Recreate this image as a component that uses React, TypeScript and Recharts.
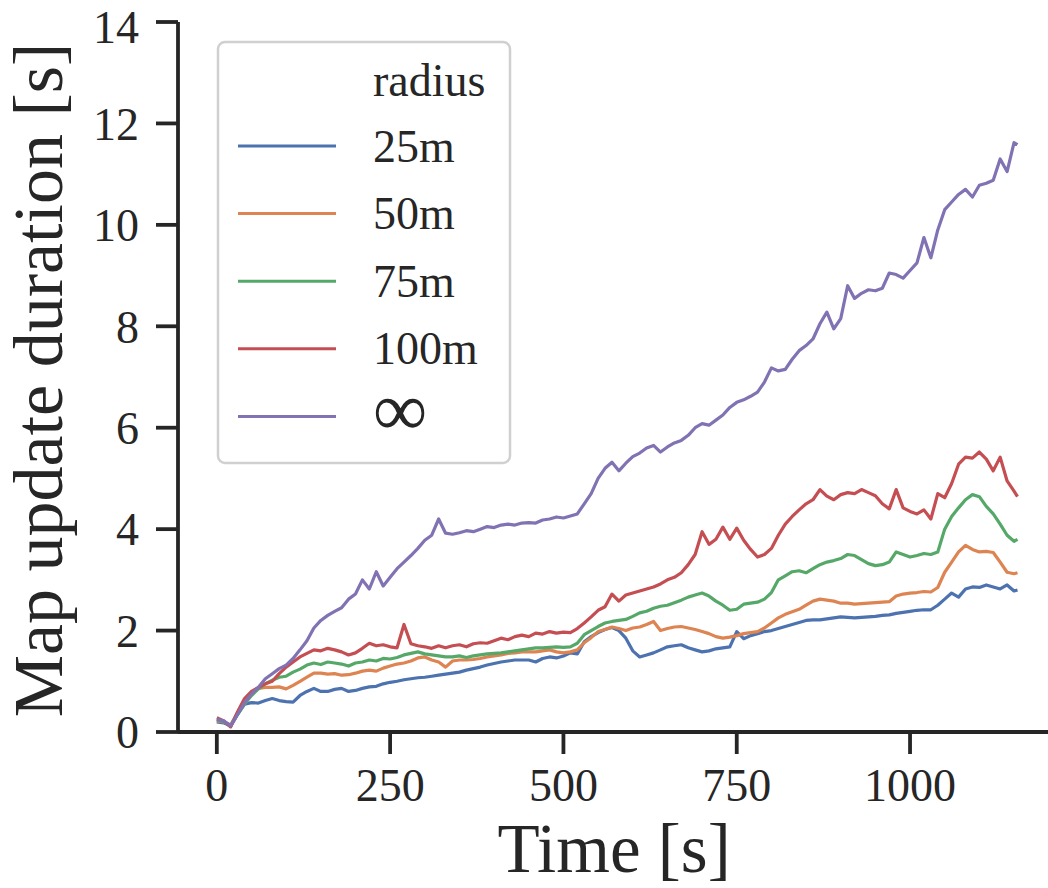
import React from 'react';
import { LineChart, Line, XAxis, YAxis, Legend, Label } from 'recharts';

const time = [
  0, 10, 20, 30, 40, 50, 60, 70, 80, 90,
  100, 110, 120, 130, 140, 150, 160, 170, 180, 190,
  200, 210, 220, 230, 240, 250, 260, 270, 280, 290,
  300, 310, 320, 330, 340, 350, 360, 370, 380, 390,
  400, 410, 420, 430, 440, 450, 460, 470, 480, 490,
  500, 510, 520, 530, 540, 550, 560, 570, 580, 590,
  600, 610, 620, 630, 640, 650, 660, 670, 680, 690,
  700, 710, 720, 730, 740, 750, 760, 770, 780, 790,
  800, 810, 820, 830, 840, 850, 860, 870, 880, 890,
  900, 910, 920, 930, 940, 950, 960, 970, 980, 990,
  1000, 1010, 1020, 1030, 1040, 1050, 1060, 1070, 1080, 1090,
  1100, 1110, 1120, 1130, 1140, 1150, 1155,
];

const r25 = [
  0.20, 0.18, 0.12, 0.35, 0.55, 0.58, 0.57, 0.62, 0.66, 0.62,
  0.60, 0.59, 0.72, 0.80, 0.86, 0.80, 0.80, 0.84, 0.86, 0.80,
  0.82, 0.86, 0.89, 0.90, 0.95, 0.98, 1.00, 1.03, 1.05, 1.07,
  1.08, 1.10, 1.12, 1.14, 1.16, 1.18, 1.22, 1.25, 1.28, 1.32,
  1.35, 1.38, 1.40, 1.42, 1.42, 1.42, 1.38, 1.45, 1.48, 1.46,
  1.50, 1.56, 1.54, 1.78, 1.88, 1.96, 2.02, 2.06, 2.00, 1.85,
  1.60, 1.48, 1.52, 1.56, 1.62, 1.68, 1.70, 1.72, 1.66, 1.62,
  1.58, 1.60, 1.64, 1.66, 1.68, 1.98, 1.84, 1.90, 1.94, 1.98,
  2.00, 2.04, 2.08, 2.12, 2.16, 2.20, 2.21, 2.21, 2.23, 2.25,
  2.27, 2.26, 2.25, 2.26, 2.27, 2.28, 2.30, 2.31, 2.34, 2.36,
  2.38, 2.40, 2.41, 2.41, 2.50, 2.62, 2.74, 2.66, 2.82, 2.86,
  2.85, 2.90, 2.86, 2.82, 2.90, 2.78, 2.80,
];

const r50 = [
  0.22, 0.20, 0.14, 0.38, 0.62, 0.78, 0.86, 0.88, 0.88, 0.89,
  0.85, 0.92, 1.00, 1.08, 1.16, 1.16, 1.14, 1.15, 1.12, 1.13,
  1.16, 1.20, 1.22, 1.20, 1.26, 1.30, 1.34, 1.36, 1.40, 1.46,
  1.48, 1.42, 1.38, 1.28, 1.40, 1.42, 1.42, 1.43, 1.45, 1.48,
  1.50, 1.52, 1.55, 1.56, 1.58, 1.58, 1.58, 1.60, 1.62, 1.58,
  1.56, 1.58, 1.62, 1.76, 1.86, 1.98, 2.02, 2.07, 2.04, 2.00,
  2.05, 2.07, 2.12, 2.18, 2.00, 2.04, 2.07, 2.08, 2.05, 2.02,
  1.98, 1.94, 1.88, 1.85, 1.87, 1.90, 1.94, 1.96, 1.98, 2.05,
  2.15, 2.25, 2.32, 2.37, 2.42, 2.50, 2.58, 2.62, 2.60, 2.58,
  2.54, 2.54, 2.52, 2.53, 2.54, 2.55, 2.56, 2.57, 2.68, 2.72,
  2.74, 2.75, 2.77, 2.76, 2.85, 3.15, 3.35, 3.55, 3.68, 3.60,
  3.55, 3.56, 3.54, 3.35, 3.15, 3.12, 3.14,
];

const r75 = [
  0.24, 0.20, 0.12, 0.35, 0.55, 0.72, 0.85, 0.95, 1.02, 1.08,
  1.10, 1.18, 1.24, 1.32, 1.36, 1.33, 1.38, 1.36, 1.34, 1.30,
  1.36, 1.38, 1.42, 1.40, 1.45, 1.44, 1.47, 1.52, 1.55, 1.58,
  1.54, 1.52, 1.50, 1.48, 1.48, 1.50, 1.47, 1.50, 1.52, 1.54,
  1.55, 1.56, 1.58, 1.60, 1.62, 1.64, 1.66, 1.66, 1.67, 1.68,
  1.67, 1.68, 1.75, 1.92, 2.00, 2.08, 2.15, 2.18, 2.20, 2.22,
  2.28, 2.35, 2.38, 2.44, 2.48, 2.50, 2.55, 2.60, 2.66, 2.70,
  2.74, 2.68, 2.58, 2.50, 2.40, 2.42, 2.52, 2.54, 2.56, 2.62,
  2.75, 3.00, 3.08, 3.16, 3.18, 3.14, 3.22, 3.30, 3.35, 3.38,
  3.42, 3.50, 3.48, 3.40, 3.32, 3.28, 3.30, 3.35, 3.55, 3.50,
  3.45, 3.48, 3.52, 3.50, 3.55, 4.00, 4.25, 4.42, 4.58, 4.68,
  4.64, 4.45, 4.30, 4.10, 3.88, 3.76, 3.80,
];

const r100 = [
  0.28, 0.22, 0.10, 0.40, 0.66, 0.80, 0.88, 0.95, 1.00, 1.15,
  1.28, 1.38, 1.48, 1.55, 1.62, 1.60, 1.65, 1.62, 1.58, 1.52,
  1.56, 1.65, 1.75, 1.70, 1.72, 1.68, 1.66, 2.12, 1.74, 1.70,
  1.68, 1.65, 1.70, 1.66, 1.70, 1.72, 1.68, 1.74, 1.76, 1.75,
  1.80, 1.85, 1.82, 1.88, 1.91, 1.88, 1.95, 1.93, 1.98, 1.95,
  1.97, 1.96, 2.04, 2.15, 2.27, 2.40, 2.47, 2.72, 2.58, 2.70,
  2.74, 2.78, 2.82, 2.86, 2.92, 3.00, 3.05, 3.14, 3.30, 3.50,
  3.95, 3.70, 3.80, 4.04, 3.80, 4.02, 3.78, 3.60, 3.45, 3.50,
  3.62, 3.88, 4.10, 4.25, 4.38, 4.50, 4.58, 4.78, 4.65, 4.58,
  4.68, 4.72, 4.70, 4.78, 4.72, 4.66, 4.50, 4.40, 4.78, 4.42,
  4.35, 4.30, 4.38, 4.20, 4.70, 4.62, 4.90, 5.28, 5.42, 5.40,
  5.52, 5.38, 5.15, 5.42, 4.95, 4.75, 4.64,
];

const rInf = [
  0.25, 0.22, 0.12, 0.35, 0.58, 0.75, 0.88, 1.05, 1.15, 1.25,
  1.32, 1.45, 1.62, 1.80, 2.05, 2.20, 2.30, 2.38, 2.45, 2.62,
  2.72, 3.00, 2.82, 3.16, 2.88, 3.05, 3.22, 3.35, 3.48, 3.62,
  3.78, 3.88, 4.20, 3.92, 3.90, 3.93, 3.97, 3.95, 4.00, 4.05,
  4.03, 4.08, 4.10, 4.08, 4.12, 4.13, 4.12, 4.18, 4.20, 4.24,
  4.22, 4.26, 4.30, 4.50, 4.70, 5.00, 5.20, 5.32, 5.15, 5.30,
  5.43, 5.50, 5.60, 5.65, 5.52, 5.62, 5.70, 5.75, 5.85, 6.00,
  6.08, 6.05, 6.15, 6.25, 6.40, 6.50, 6.55, 6.62, 6.70, 6.90,
  7.18, 7.12, 7.15, 7.35, 7.52, 7.62, 7.75, 8.05, 8.28, 7.95,
  8.15, 8.80, 8.55, 8.65, 8.72, 8.70, 8.75, 9.05, 9.02, 8.95,
  9.10, 9.25, 9.75, 9.35, 9.90, 10.30, 10.45, 10.60, 10.70, 10.55,
  10.78, 10.82, 10.88, 11.30, 11.05, 11.62, 11.58,
];

const seriesKeys = ['r25', 'r50', 'r75', 'r100', 'rInf'];
const seriesNames = ['25m', '50m', '75m', '100m', '\u221E'];
const seriesColors = ['#4C72B0', '#DD8452', '#55A868', '#C44E52', '#8172B3'];
const seriesValues = [r25, r50, r75, r100, rInf];

const xTicks = [0, 250, 500, 750, 1000];
const yTicks = [0, 2, 4, 6, 8, 10, 12, 14];
const legendTitle = 'radius';
const xLabel = 'Time [s]';
const yLabel = 'Map update duration [s]';

const data = time.map((t, i) => {
  const row: Record<string, number> = { t };
  seriesKeys.forEach((k, j) => {
    row[k] = seriesValues[j][i];
  });
  return row;
});

const FONT = '"Liberation Serif", "Times New Roman", Times, serif';
const INK = '#262626';

function LegendBox() {
  const rowY = [40, 106, 173.6, 241.2, 308.8, 376.4];
  return (
    <svg width={296} height={425} style={{ display: 'block', overflow: 'visible' }}>
      <rect x={2} y={2} width={292} height={421} rx={7} ry={7} fill="#ffffff" fillOpacity={0.8} stroke="#d0d0d0" strokeWidth={2.5} />
      <text x={157} y={rowY[0]} dominantBaseline="central" fontFamily={FONT} fontSize={46} fill={INK}>
        {legendTitle}
      </text>
      {seriesNames.map((name, i) => (
        <g key={name}>
          <line x1={22} x2={120} y1={rowY[i + 1]} y2={rowY[i + 1]} stroke={seriesColors[i]} strokeWidth={3} />
          <text
            x={157}
            y={i === 4 ? rowY[i + 1] - 7 : rowY[i + 1]}
            dominantBaseline="central"
            fontFamily={FONT}
            fontSize={i === 4 ? 76 : 46}
            fill={INK}
          >
            {name}
          </text>
        </g>
      ))}
    </svg>
  );
}

export default function App() {
  return (
    <div style={{ position: 'absolute', left: 0, top: 0, width: 1048, height: 888, background: '#ffffff', overflow: 'hidden' }}>
      <LineChart
        width={1048}
        height={888}
        data={data}
        margin={{ top: 22, right: 0, bottom: 96, left: 98 }}
      >
        <XAxis
          dataKey="t"
          type="number"
          domain={[-56, 1199]}
          ticks={xTicks}
          allowDataOverflow
          height={60}
          tickSize={22}
          tickMargin={14}
          axisLine={{ stroke: INK, strokeWidth: 3.8 }}
          tickLine={{ stroke: INK, strokeWidth: 3.8 }}
          tick={{ fontSize: 46, fontFamily: FONT, fill: INK }}
        >
          <Label
            content={() => (
              <text x={614} y={872} textAnchor="middle" fontFamily={FONT} fontSize={69} fill={INK}>
                {xLabel}
              </text>
            )}
          />
        </XAxis>
        <YAxis
          type="number"
          domain={[0, 14]}
          ticks={yTicks}
          allowDataOverflow
          width={80}
          tickSize={22}
          tickMargin={17}
          axisLine={{ stroke: INK, strokeWidth: 3.8 }}
          tickLine={{ stroke: INK, strokeWidth: 3.8 }}
          tick={{ fontSize: 46, fontFamily: FONT, fill: INK }}
        >
          <Label
            content={() => (
              <text
                x={62}
                y={380}
                transform="rotate(-90 62 380)"
                textAnchor="middle"
                fontFamily={FONT}
                fontSize={70}
                fill={INK}
              >
                {yLabel}
              </text>
            )}
          />
        </YAxis>
        <Legend
          layout="horizontal"
          verticalAlign="middle"
          align="center"
          wrapperStyle={{ left: 216, top: 40, width: 296, height: 425 }}
          content={() => <LegendBox />}
        />
        {seriesKeys.map((k, i) => (
          <Line
            key={k}
            type="linear"
            dataKey={k}
            name={seriesNames[i]}
            stroke={seriesColors[i]}
            strokeWidth={3.2}
            strokeLinejoin="round"
            dot={false}
            activeDot={false}
            isAnimationActive={false}
          />
        ))}
      </LineChart>
    </div>
  );
}
